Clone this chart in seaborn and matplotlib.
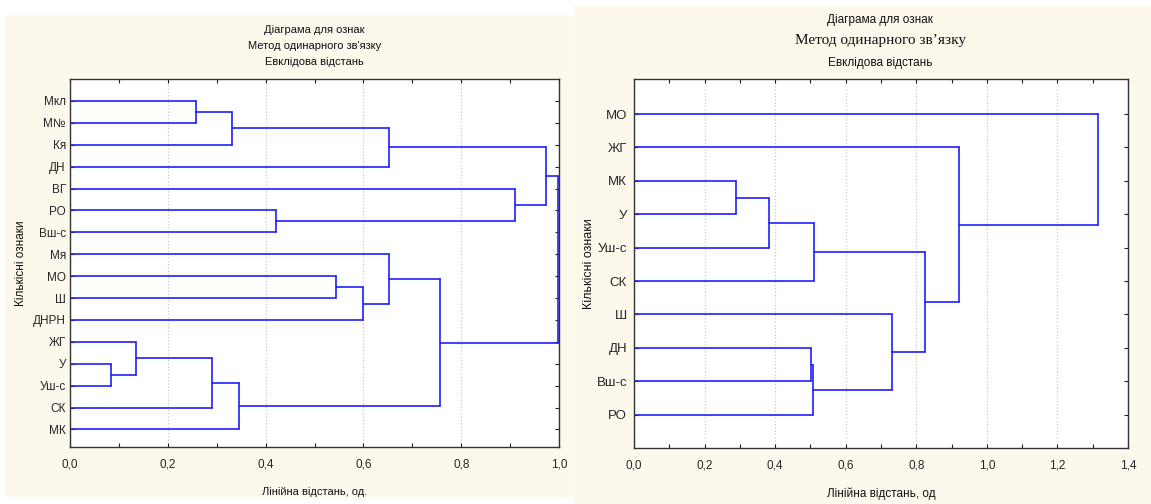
import numpy as np
import pandas as pd
import matplotlib
matplotlib.use("Agg")
import matplotlib.pyplot as plt
from matplotlib.patches import Rectangle
from matplotlib.ticker import MultipleLocator, FuncFormatter
import seaborn as sns

# ---------------- data ----------------
left_leaves = ["Мкл", "М№", "Кя", "ДН", "ВГ", "РО", "Вш-с", "Мя", "МО", "Ш",
               "ДНРН", "ЖГ", "У", "Уш-с", "СК", "МК"]
# merges: cluster n+k joins a[k] and b[k] at height h[k]
left_merge_a = [0, 16, 17, 5, 4, 18, 12, 11, 23, 24, 8, 26, 7, 28, 21]
left_merge_b = [1, 2, 3, 6, 19, 20, 13, 22, 14, 15, 9, 10, 27, 25, 29]
left_merge_h = [0.258, 0.332, 0.652, 0.422, 0.910, 0.973, 0.084, 0.135,
                0.291, 0.346, 0.543, 0.600, 0.652, 0.756, 0.997]

right_leaves = ["МО", "ЖГ", "МК", "У", "Уш-с", "СК", "Ш", "ДН", "Вш-с", "РО"]
right_merge_a = [2, 10, 11, 7, 13, 6, 12, 1, 0]
right_merge_b = [3, 4, 5, 8, 9, 14, 15, 16, 17]
right_merge_h = [0.289, 0.383, 0.511, 0.503, 0.508, 0.731, 0.825, 0.921, 1.315]

left_title = ["Діаграма для ознак", "Метод одинарного зв'язку", "Евклідова відстань"]
right_title = ["Діаграма для ознак", "Метод одинарного зв’язку", "Евклідова відстань"]
left_xlabel = "Лінійна відстань, од."
right_xlabel = "Лінійна відстань, од"
ylabel_text = "Кількісні ознаки"


def dendro_segments(n, ma, mb, mh):
    xs = {i: 0.0 for i in range(n)}
    ys = {i: float(i) for i in range(n)}
    rows = []
    seg = 0
    for k, (a, b, h) in enumerate(zip(ma, mb, mh)):
        c = n + k
        for (x0, y0, x1, y1) in [(xs[a], ys[a], h, ys[a]),
                                 (h, ys[a], h, ys[b]),
                                 (xs[b], ys[b], h, ys[b])]:
            rows.append((seg, 0, x0, y0))
            rows.append((seg, 1, x1, y1))
            seg += 1
        xs[c] = h
        ys[c] = (ys[a] + ys[b]) / 2.0
    return pd.DataFrame(rows, columns=["seg", "order", "x", "y"])


sns.set_theme(style="white")
plt.rcParams["font.family"] = ["Liberation Sans", "DejaVu Sans"]

W, H = 1151, 504
fig = plt.figure(figsize=(W / 100, H / 100), dpi=100, facecolor="white")
cream = "#fdf8ec"
fig.patches.append(Rectangle((5 / W, 1 - 497 / H), 568 / W, 482 / H,
                             transform=fig.transFigure, facecolor=cream,
                             edgecolor="none", zorder=-10))
fig.patches.append(Rectangle((574 / W, 0), (W - 574) / W, 1 - 6 / H,
                             transform=fig.transFigure, facecolor=cream,
                             edgecolor="none", zorder=-10))

line_col = "#1f1fff"
comma = FuncFormatter(lambda v, p: f"{v:.1f}".replace(".", ","))


def style_axes(ax, leaves, xmax, ylim, fs_ticks, fs_leaf, ypad):
    ax.set_facecolor("white")
    ax.set_xlim(0, xmax)
    ax.set_ylim(*ylim)
    ax.xaxis.set_major_locator(MultipleLocator(0.2))
    ax.xaxis.set_minor_locator(MultipleLocator(0.1))
    ax.xaxis.set_major_formatter(comma)
    ax.set_yticks(range(len(leaves)))
    ax.set_yticklabels(leaves)
    ax.tick_params(axis="x", which="both", direction="in", top=True, bottom=True,
                   length=3, width=0.8, color="#222222", labelsize=fs_ticks, pad=8)
    ax.tick_params(axis="y", which="both", direction="in", left=True, right=True,
                   length=3, width=0.8, color="#222222", labelsize=fs_leaf, pad=ypad)
    ax.grid(axis="x", which="major", color="#c8c8c8", linestyle=":", linewidth=0.9)
    ax.grid(axis="y", visible=False)
    for s in ax.spines.values():
        s.set_visible(True)
        s.set_color("#333333")
        s.set_linewidth(1.0)
    ax.set_axisbelow(True)


# ---------------- left panel ----------------
axL = fig.add_axes([70 / W, 1 - 447 / H, 489 / W, 368 / H])
dfL = dendro_segments(len(left_leaves), left_merge_a, left_merge_b, left_merge_h)
sns.lineplot(data=dfL, x="x", y="y", units="seg", estimator=None, sort=False,
             color=line_col, linewidth=1.2, ax=axL, legend=False)
style_axes(axL, left_leaves, 1.0, (15.8, -1.0), 8.5, 8.5, 3)
axL.set_xlabel(left_xlabel, fontsize=8, color="#111111")
axL.set_ylabel(ylabel_text, fontsize=8.5, color="#111111")
axL.xaxis.set_label_coords(0.5, -0.108)
axL.yaxis.set_label_coords(-0.088, 0.5)
for txt, yy in zip(left_title, [1.133, 1.090, 1.046]):
    axL.text(0.5, yy, txt, transform=axL.transAxes, ha="center", va="center",
             fontsize=8, color="#111111")

# ---------------- right panel ----------------
axR = fig.add_axes([634 / W, 1 - 448 / H, 494 / W, 369 / H])
dfR = dendro_segments(len(right_leaves), right_merge_a, right_merge_b, right_merge_h)
sns.lineplot(data=dfR, x="x", y="y", units="seg", estimator=None, sort=False,
             color=line_col, linewidth=1.2, ax=axR, legend=False)
style_axes(axR, right_leaves, 1.4, (10.0, -1.05), 8.5, 9.5, 5)
axR.set_xlabel(right_xlabel, fontsize=8.5, color="#111111",
               family=["Liberation Sans Narrow", "Liberation Sans", "DejaVu Sans"])
axR.set_ylabel(ylabel_text, fontsize=9, color="#111111")
axR.xaxis.set_label_coords(0.5, -0.108)
axR.yaxis.set_label_coords(-0.079, 0.5)
for txt, yy, fam, fs in zip(right_title, [1.160, 1.103, 1.043],
                            [["Liberation Sans Narrow", "Liberation Sans"],
                             ["Liberation Serif", "DejaVu Serif"],
                             ["Liberation Sans Narrow", "Liberation Sans"]],
                            [8.5, 11, 8.5]):
    axR.text(0.498, yy, txt, transform=axR.transAxes, ha="center", va="center",
             fontsize=fs, color="#111111", family=fam)

fig.savefig("out.png", dpi=100, facecolor=fig.get_facecolor())
